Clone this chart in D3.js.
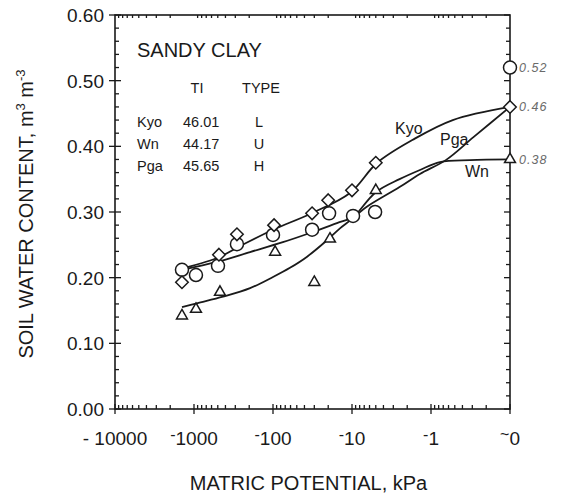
<!DOCTYPE html>
<html>
<head>
<meta charset="utf-8">
<script src="https://cdn.jsdelivr.net/npm/d3@7"></script>
<style>
  html, body { margin: 0; padding: 0; background: #fff; }
  svg { display: block; }
  text { font-family: "Liberation Sans", Arial, Helvetica, sans-serif; fill: #1a1a1a; }
</style>
</head>
<body>
<svg id="chart" width="564" height="498"></svg>
<script>
// Axis ticks
const xTickValues = [10000, 1000, 100, 10, 1, 0.1];
const xTickLabels = ["- 10000", "-1000", "-100", "-10", "-1", "~0"];
const yTickValues = [0, 0.1, 0.2, 0.3, 0.4, 0.5, 0.6];

// Legend table (soil, TI, type)
const soils = ["Kyo", "Wn", "Pga"];
const tiValues = ["46.01", "44.17", "45.65"];
const curveTypes = ["L", "U", "H"];

// Fitted retention curves: [|matric potential| kPa, water content]
const kyoCurve = [[1640,0.212],[512,0.230],[262,0.248],[100,0.273],[34,0.297],[10.6,0.329],[4.8,0.375],[1.7,0.410],[0.53,0.440],[0.1,0.46]];
const wnCurve = [[1420,0.155],[916,0.161],[430,0.171],[195,0.184],[100,0.201],[61,0.215],[37,0.232],[20.7,0.257],[14.2,0.275],[9.7,0.291],[5.0,0.330],[2.5,0.350],[1.38,0.364],[0.77,0.376],[0.32,0.379],[0.1,0.38]];
const pgaCurve = [[1420,0.212],[512,0.224],[195,0.239],[75,0.254],[34,0.268],[15.5,0.283],[9.7,0.292],[6.5,0.308],[2.5,0.338],[1.38,0.358],[0.65,0.379],[0.29,0.414],[0.1,0.46]];

// Measured points
const kyoPotential = [1420, 483, 286, 97, 32, 20, 10, 5.0, 0.1];
const kyoTheta     = [0.193, 0.235, 0.266, 0.280, 0.298, 0.318, 0.333, 0.375, 0.46];
const pgaPotential = [1420, 944, 497, 286, 100, 32, 19.5, 9.7, 5.1, 0.1];
const pgaTheta     = [0.212, 0.204, 0.218, 0.251, 0.265, 0.273, 0.298, 0.294, 0.300, 0.52];
const wnPotential  = [1420, 944, 469, 94, 30, 19, 5.0, 0.1];
const wnTheta      = [0.142, 0.152, 0.178, 0.239, 0.193, 0.259, 0.333, 0.38];

const svg = d3.select("#chart");
const plotLeft = 115, plotRight = 510, plotTop = 15, plotBottom = 409;

const x = d3.scaleLog().domain([10000, 0.1]).range([plotLeft, plotRight]);
const y = d3.scaleLinear().domain([0, 0.6]).range([plotBottom, plotTop]);

const ink = "#1a1a1a";

// Frame
svg.append("rect")
  .attr("x", plotLeft).attr("y", plotTop)
  .attr("width", plotRight - plotLeft).attr("height", plotBottom - plotTop)
  .attr("fill", "none").attr("stroke", ink).attr("stroke-width", 1.6);

// Y ticks: majors cross the axis, minors point inward on both sides
const yMinor = d3.range(0, 0.6001, 0.02);
const gy = svg.append("g").attr("stroke", ink).attr("stroke-width", 1.3);
yMinor.forEach(v => {
  const major = Math.abs(v * 10 - Math.round(v * 10)) < 1e-6;
  gy.append("line").attr("x1", major ? plotLeft - 6 : plotLeft).attr("x2", plotLeft + (major ? 6 : 4))
    .attr("y1", y(v)).attr("y2", y(v));
  gy.append("line").attr("x1", plotRight - (major ? 6 : 4)).attr("x2", plotRight)
    .attr("y1", y(v)).attr("y2", y(v));
});

// X ticks: decades cross the axis, log minors point inward
const gx = svg.append("g").attr("stroke", ink).attr("stroke-width", 1.3);
xTickValues.forEach(v => {
  gx.append("line").attr("x1", x(v)).attr("x2", x(v)).attr("y1", plotBottom - 5).attr("y2", plotBottom + 5);
});
for (let e = 3; e >= -1; e--) {
  for (let k = 2; k <= 9; k++) {
    const v = k * Math.pow(10, e);
    gx.append("line").attr("x1", x(v)).attr("x2", x(v)).attr("y1", plotBottom - 4).attr("y2", plotBottom);
    gx.append("line").attr("x1", x(v)).attr("x2", x(v)).attr("y1", plotTop).attr("y2", plotTop + 3);
  }
}

// Y tick labels
svg.append("g").selectAll("text").data(yTickValues).join("text")
  .attr("x", plotLeft - 11).attr("y", d => y(d)).attr("dy", "0.36em")
  .attr("text-anchor", "end").attr("font-size", 19)
  .text(d => d3.format(".2f")(d));

// X tick labels: raised minus / tilde on the short labels
const xl = svg.append("g").attr("font-size", 19);
xTickValues.forEach((v, i) => {
  const lab = xTickLabels[i];
  const t = xl.append("text").attr("x", x(v)).attr("y", 445).attr("text-anchor", "middle");
  if (i === 0) {
    t.text(lab);
  } else {
    t.append("tspan").attr("dy", -5).attr("font-size", 16).text(lab[0]);
    t.append("tspan").attr("dy", 5).text(lab.slice(1));
  }
});

// Axis titles
svg.append("text")
  .attr("x", (plotLeft + plotRight) / 2 - 4).attr("y", 490)
  .attr("text-anchor", "middle").attr("font-size", 20)
  .text("MATRIC POTENTIAL, kPa");

const yt = svg.append("text")
  .attr("transform", "translate(33," + ((plotTop + plotBottom) / 2 + 2) + ") rotate(-90)")
  .attr("text-anchor", "middle").attr("font-size", 20);
yt.append("tspan").text("SOIL WATER CONTENT, m");
yt.append("tspan").attr("dy", -8).attr("font-size", 13).text("3");
yt.append("tspan").attr("dy", 8).text(" m");
yt.append("tspan").attr("dy", -8).attr("font-size", 13).text("-3");

// Title block and legend table
svg.append("text").attr("x", 137).attr("y", 57).attr("font-size", 20).text("SANDY CLAY");
svg.append("text").attr("x", 197).attr("y", 93).attr("font-size", 14.5).attr("text-anchor", "middle").text("TI");
svg.append("text").attr("x", 261).attr("y", 93).attr("font-size", 14.5).attr("text-anchor", "middle").text("TYPE");
soils.forEach((s, i) => {
  const yy = 127 + i * 22;
  svg.append("text").attr("x", 137).attr("y", yy).attr("font-size", 14.5).text(s);
  svg.append("text").attr("x", 183).attr("y", yy).attr("font-size", 14.5).text(tiValues[i]);
  svg.append("text").attr("x", 259).attr("y", yy).attr("font-size", 14.5).attr("text-anchor", "middle").text(curveTypes[i]);
});

// Curves
const line = d3.line().x(d => x(d[0])).y(d => y(d[1])).curve(d3.curveCatmullRom.alpha(0.5));
[kyoCurve, wnCurve, pgaCurve].forEach(c => {
  svg.append("path").attr("d", line(c)).attr("fill", "none")
    .attr("stroke", ink).attr("stroke-width", 1.8).attr("stroke-linejoin", "round");
});

// Curve labels
svg.append("text").attr("x", 395).attr("y", 134).attr("font-size", 16).text("Kyo");
svg.append("text").attr("x", 440).attr("y", 145).attr("font-size", 16).text("Pga");
svg.append("text").attr("x", 465).attr("y", 177).attr("font-size", 16).text("Wn");

// Markers
const mk = svg.append("g").attr("fill", "#fff").attr("stroke", ink).attr("stroke-width", 1.5);
pgaPotential.forEach((p, i) => {
  mk.append("circle").attr("cx", x(p)).attr("cy", y(pgaTheta[i])).attr("r", 6.5);
});
const diamond = d3.symbol().type(d3.symbolDiamond2).size(100);
kyoPotential.forEach((p, i) => {
  mk.append("path").attr("d", diamond()).attr("transform", `translate(${x(p)},${y(kyoTheta[i])})`);
});
const tri = d3.symbol().type(d3.symbolTriangle2).size(85);
wnPotential.forEach((p, i) => {
  mk.append("path").attr("d", tri()).attr("transform", `translate(${x(p)},${y(wnTheta[i])})`);
});

// Handwritten saturation values beside the right axis
const sat = [
  [pgaPotential[pgaPotential.length - 1], pgaTheta[pgaTheta.length - 1]],
  [kyoPotential[kyoPotential.length - 1], kyoTheta[kyoTheta.length - 1]],
  [wnPotential[wnPotential.length - 1], wnTheta[wnTheta.length - 1]]
];
sat.forEach(d => {
  svg.append("text").attr("x", x(d[0]) + 9).attr("y", y(d[1])).attr("dy", "0.35em")
    .attr("font-size", 12.5).attr("font-style", "italic").style("fill", "#6a6a6a")
    .attr("letter-spacing", 1)
    .text(d3.format(".2f")(d[1]));
});
</script>
</body>
</html>
